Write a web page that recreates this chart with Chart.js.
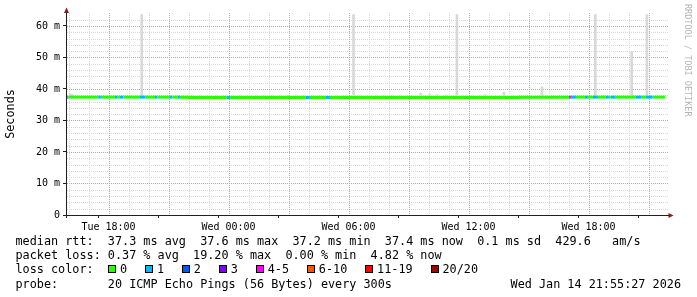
<!DOCTYPE html>
<html>
<head>
<meta charset="utf-8">
<script src="https://cdn.jsdelivr.net/npm/chart.js@4.4.1/dist/chart.umd.min.js"></script>
<style>
  html, body { margin: 0; padding: 0; background: #fff; }
  #wrap { position: relative; width: 697px; height: 297px; overflow: hidden; }
  #chart { position: absolute; left: 0; top: 0; }
  .legend {
    position: absolute; left: 15.5px; top: 234px; margin: 0;
    font: 11.8px/14.2px "DejaVu Sans Mono", monospace; color: #000; white-space: pre;
  }
  .date { position: absolute; right: 16px; top: 276.6px; margin: 0;
    font: 11.8px/14.2px "DejaVu Sans Mono", monospace; color: #000; white-space: pre; }
  .swatch { position: absolute; top: 265px; width: 6px; height: 6px; border: 1px solid #000; }
  .lossLabel { position: absolute; top: 262.4px; font: 11.8px/14.2px "DejaVu Sans Mono", monospace; color: #000; white-space: pre; }
  .watermark {
    position: absolute; left: 683px; top: 4px; writing-mode: vertical-rl;
    font: 8.5px/9px "DejaVu Sans Mono", monospace; color: #b4b4b4; white-space: pre;
  }
</style>
</head>
<body>
<div id="wrap">
  <canvas id="chart" width="697" height="297"></canvas>
  <div class="watermark">RRDTOOL / TOBI OETIKER</div>
  <pre class="legend">median rtt:  37.3 ms avg  37.6 ms max  37.2 ms min  37.4 ms now  0.1 ms sd  429.6   am/s
packet loss: 0.37 % avg  19.20 % max  0.00 % min  4.82 % now
loss color:
probe:       20 ICMP Echo Pings (56 Bytes) every 300s</pre>
  <pre class="date">Wed Jan 14 21:55:27 2026</pre>
  <div id="lossLegend"></div>
</div>
<script>
// time axis in hours counted from Tue 00:00
const startHour = 15.924;   // Tue 15:55:27
const endHour = 45.924;     // Wed 21:55:27

const tickHours = [18, 24, 30, 36, 42];
const tickLabels = ['Tue 18:00', 'Wed 00:00', 'Wed 06:00', 'Wed 12:00', 'Wed 18:00'];
const yLabelValues = [0, 10, 20, 30, 40, 50, 60];
const yLabels = ['0', '10 m', '20 m', '30 m', '40 m', '50 m', '60 m'];

// median rtt (ms) at each change point, with lost pings out of 20
const medianHours = [15.924, 16.0, 17.49, 17.62, 18.32, 18.46, 18.57, 18.74, 19.57, 19.82,
    20.32, 20.44, 21.07, 21.19, 21.46, 21.57, 22.07, 23.91, 24.07, 27.87,
    28.07, 28.87, 29.07, 38.57, 41.02, 41.12, 41.37, 41.82, 41.97, 42.22,
    42.47, 42.86, 43.02, 43.12, 43.32, 44.36, 44.66, 44.86, 45.21, 45.82];
const medianMs = [37.4, 37.4, 37.4, 37.4, 37.4, 37.4, 37.4, 37.4, 37.4, 37.4,
    37.4, 37.4, 37.4, 37.4, 37.4, 37.4, 37.3, 37.3, 37.3, 37.3,
    37.3, 37.3, 37.3, 37.4, 37.4, 37.4, 37.4, 37.4, 37.4, 37.4,
    37.4, 37.4, 37.4, 37.4, 37.4, 37.4, 37.4, 37.4, 37.4, 37.4];
const medianLoss = [1, 0, 1, 0, 1, 0, 1, 0, 1, 0,
    1, 0, 1, 0, 1, 0, 0, 1, 0, 1,
    0, 1, 0, 0, 4, 1, 0, 1, 0, 1,
    0, 1, 0, 1, 0, 1, 0, 1, 0, 0];

// smoke (spread of the 20 pings) where it shows above the median
const smokeHours = [16.10, 16.22, 19.66, 26.97, 30.25, 33.61, 34.05, 34.42, 34.92, 35.42, 36.82, 37.77, 39.67, 42.34, 44.16, 44.92];
const smokeLow = [37.3, 37.3, 37.3, 37.3, 37.3, 37.3, 37.3, 37.3, 37.3, 37.3, 37.3, 37.3, 37.3, 37.3, 37.3, 37.3];
const smokeHigh = [38.4, 38.2, 63.6, 38.0, 63.6, 38.6, 38.2, 38.2, 38.1, 63.6, 38.2, 39.0, 40.7, 63.6, 51.9, 63.6];

const lossLabels = ['0', '1', '2', '3', '4-5', '6-10', '11-19', '20/20'];
const lossUpTo = [0, 1, 2, 3, 5, 10, 19, 20];
const lossColors = ['#26ff00', '#00b8ff', '#0059ff', '#7e00ff', '#ff00ff', '#ff5500', '#ff0000', '#a10000'];

const minorGrid = '#d6d6d6';
const majorGrid = '#ec9090';

function lossColor(n) {
    const i = lossUpTo.findIndex(m => n <= m);
    return lossColors[i < 0 ? lossColors.length - 1 : i];
}

function isMultiple(v, step) {
    return Math.abs(v / step - Math.round(v / step)) < 1e-6;
}

function renderLossLegend() {
    const box = document.getElementById('lossLegend');
    let x = 108;
    lossLabels.forEach((lab, i) => {
        box.innerHTML += `<div class="swatch" style="left:${x}px;background:${lossColors[i]}"></div>` +
            `<span class="lossLabel" style="left:${x + 12}px">${lab}</span>`;
        x += 29.8 + 7.12 * lab.length;
    });
}

// dotted rrd style grid: every hour / 2 ms, major every 3 h / 10 ms
const rrdGrid = {
    id: 'rrdGrid',
    beforeDatasetsDraw(chart) {
        const { ctx, chartArea: a, scales: { x, y } } = chart;
        ctx.save();
        ctx.lineWidth = 1;
        ctx.setLineDash([1, 1]);
        [false, true].forEach(major => {
            ctx.strokeStyle = major ? majorGrid : minorGrid;
            ctx.beginPath();
            x.ticks.forEach(t => {
                if (isMultiple(t.value, 3) !== major) return;
                const px = Math.round(x.getPixelForValue(t.value)) + 0.5;
                ctx.moveTo(px, a.top);
                ctx.lineTo(px, a.bottom);
            });
            y.ticks.forEach(t => {
                if (t.value === 0 || isMultiple(t.value, 10) !== major) return;
                const py = Math.round(y.getPixelForValue(t.value)) + 0.5;
                ctx.moveTo(a.left, py);
                ctx.lineTo(a.right + 1, py);
            });
            ctx.stroke();
        });
        ctx.restore();
    }
};

const rrdAxes = {
    id: 'rrdAxes',
    afterDraw(chart) {
        const { ctx, chartArea: a } = chart;
        ctx.save();
        ctx.strokeStyle = '#1f1f1f';
        ctx.lineWidth = 1;
        ctx.beginPath();
        ctx.moveTo(a.left - 4, a.bottom + 0.5);
        ctx.lineTo(a.right + 2, a.bottom + 0.5);
        ctx.moveTo(a.left - 0.5, a.bottom + 3);
        ctx.lineTo(a.left - 0.5, a.top - 1);
        ctx.stroke();
        ctx.fillStyle = '#801f1f';
        ctx.beginPath();
        ctx.moveTo(a.right + 6.5, a.bottom + 0.5);
        ctx.lineTo(a.right + 1.5, a.bottom - 2);
        ctx.lineTo(a.right + 1.5, a.bottom + 3);
        ctx.fill();
        ctx.beginPath();
        ctx.moveTo(a.left - 0.5, a.top - 5.5);
        ctx.lineTo(a.left - 3, a.top);
        ctx.lineTo(a.left + 2, a.top);
        ctx.fill();
        ctx.restore();
    }
};

function initChart() {
    const mono = 'DejaVu Sans Mono';
    new Chart(document.getElementById('chart'), {
        type: 'line',
        data: {
            datasets: [
                {
                    type: 'bar',
                    data: smokeHours.map((h, i) => ({ x: h, y: [smokeLow[i], smokeHigh[i]] })),
                    backgroundColor: '#d8d8d8',
                    barThickness: 2,
                    order: 2
                },
                {
                    type: 'line',
                    data: medianHours.map((h, i) => ({ x: h, y: medianMs[i] })),
                    stepped: true,
                    borderWidth: 3,
                    borderCapStyle: 'butt',
                    pointRadius: 0,
                    borderColor: lossColors[0],
                    segment: { borderColor: c => lossColor(medianLoss[c.p0DataIndex]) },
                    order: 1
                }
            ]
        },
        options: {
            responsive: false,
            animation: false,
            events: [],
            layout: { padding: { left: 0, right: 30, top: 13, bottom: 0 } },
            plugins: { legend: { display: false }, tooltip: { enabled: false } },
            scales: {
                x: {
                    type: 'linear', min: startHour, max: endHour, offset: false,
                    afterBuildTicks: s => {
                        const t = [];
                        for (let h = Math.ceil(startHour); h <= endHour; h++) t.push({ value: h });
                        s.ticks = t;
                    },
                    afterFit: s => { s.height = 82; },
                    grid: {
                        drawOnChartArea: false,
                        tickLength: 3,
                        tickColor: c => (c.tick && isMultiple(c.tick.value, 3)) ? '#1f1f1f' : 'rgba(0,0,0,0)'
                    },
                    border: { display: false },
                    ticks: {
                        autoSkip: false, maxRotation: 0, padding: 3, color: '#000',
                        font: { family: mono, size: 10 },
                        callback: v => { const i = tickHours.indexOf(v); return i < 0 ? '' : tickLabels[i]; }
                    }
                },
                y: {
                    min: 0, max: 64.1,
                    afterBuildTicks: s => {
                        const t = [];
                        for (let v = 0; v <= 62; v += 2) t.push({ value: v });
                        s.ticks = t;
                    },
                    afterFit: s => { s.width = 67; },
                    title: {
                        display: true, text: 'Seconds', color: '#000',
                        font: { family: mono, size: 11.8 }, padding: { top: 4, bottom: 0 }
                    },
                    grid: {
                        drawOnChartArea: false,
                        tickLength: 4,
                        tickColor: c => (c.tick && isMultiple(c.tick.value, 10)) ? '#1f1f1f' : 'rgba(0,0,0,0)'
                    },
                    border: { display: false },
                    ticks: {
                        autoSkip: false, padding: 3, color: '#000', font: { family: mono, size: 10 },
                        callback: v => { const i = yLabelValues.indexOf(v); return i < 0 ? '' : yLabels[i]; }
                    }
                }
            }
        },
        plugins: [rrdGrid, rrdAxes]
    });
}

document.addEventListener('DOMContentLoaded', () => {
    renderLossLegend();
    initChart();
});
</script>
</body>
</html>
